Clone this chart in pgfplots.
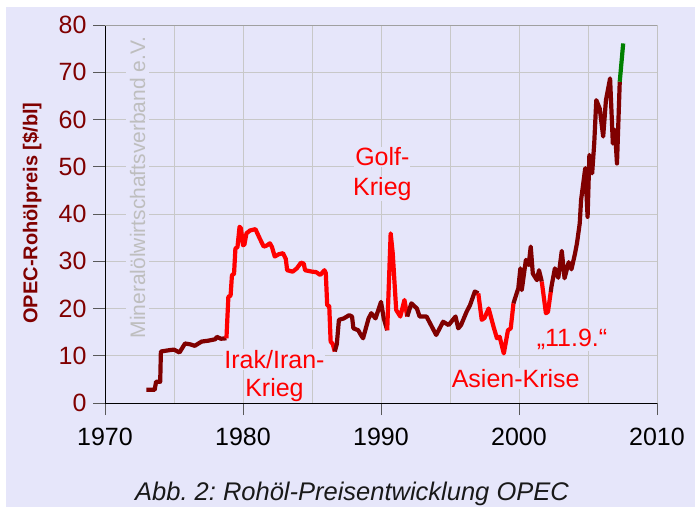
\documentclass[border=0pt]{standalone}
\usepackage{fontspec}
\setmainfont{Liberation Sans}
\usepackage{pgfplots}
\pgfplotsset{compat=1.18}
\definecolor{bg}{RGB}{230,230,250}
\definecolor{dred}{RGB}{128,0,0}
\definecolor{gridc}{RGB}{200,200,200}
\definecolor{framec}{RGB}{160,160,160}
\definecolor{wm}{RGB}{190,190,190}
\definecolor{grn}{RGB}{0,128,0}
\frenchspacing
\begin{document}
\begin{tikzpicture}[x=1pt,y=1pt]
\path[use as bounding box] (0,0) rectangle (695,507);
\fill[bg] (6,0) rectangle (695,500);
\begin{axis}[at={(105pt,104pt)}, anchor=south west, scale only axis,
  width=552pt, height=378pt,
  xmin=1970, xmax=2010, ymin=0, ymax=80,
  xtick={1970,1980,...,2010}, ytick={0,10,...,80},
  minor xtick={1975,1985,1995,2005},
  grid=both,
  major grid style={gridc, line width=1pt},
  minor grid style={gridc, line width=1pt},
  axis x line=bottom, axis y line=left,
  axis line style={-, black, line width=1pt},
  tick align=outside, major tick length=12pt, minor tick length=0pt,
  tick style={black!65, line width=1pt},
  xticklabel style={font=\fontsize{25}{30}\selectfont, text=black, yshift=-10pt},
  yticklabel style={font=\fontsize{25}{30}\selectfont, text=dred, xshift=-3pt},
  /pgf/number format/assume math mode=true,
  /pgf/number format/1000 sep={},
  line join=round,
]
% 1973-1978 (dark red)
\addplot[dred, line width=4.2pt] coordinates {
(1973.0,2.8)(1973.6,2.8)(1973.7,4.5)(1974.0,4.5)(1974.05,10.9)(1974.7,11.2)(1975.0,11.3)(1975.4,10.7)(1975.8,12.6)(1976.2,12.4)(1976.5,12.1)(1977.0,13.0)(1977.5,13.2)(1978.0,13.5)(1978.1,14.0)(1978.4,13.6)(1978.8,13.7)};
% Irak/Iran (red)
\addplot[red, line width=4.2pt] coordinates {
(1978.8,13.7)(1978.94,22.5)(1979.1,22.7)(1979.2,27.1)(1979.35,27.3)(1979.45,32.7)(1979.6,33.0)(1979.75,37.3)(1979.85,37.0)(1980.0,33.4)(1980.1,33.5)(1980.25,35.9)(1980.5,36.5)(1980.9,36.8)(1981.2,34.9)(1981.5,33.1)(1981.7,33.3)(1981.95,33.8)(1982.1,33.0)(1982.3,31.0)(1982.6,31.5)(1982.9,31.7)(1983.1,30.5)(1983.2,28.1)(1983.6,27.8)(1983.9,28.5)(1984.2,29.7)(1984.4,29.5)(1984.5,28.1)(1985.0,27.8)(1985.3,27.7)(1985.6,27.1)(1985.9,28.1)(1986.0,27.5)(1986.1,20.7)(1986.25,20.5)(1986.35,13.0)(1986.5,12.5)(1986.65,10.9)};
% 1986-1990 (dark red)
\addplot[dred, line width=4.2pt] coordinates {
(1986.65,10.9)(1986.8,12.5)(1986.95,17.6)(1987.3,17.9)(1987.7,18.6)(1987.9,18.3)(1988.0,15.8)(1988.35,15.4)(1988.5,14.6)(1988.7,13.7)(1989.1,17.9)(1989.3,19.0)(1989.6,17.9)(1990.0,21.4)(1990.2,17.9)(1990.45,15.4)};
% Golf-Krieg (red)
\addplot[red, line width=4.2pt] coordinates {
(1990.45,15.4)(1990.7,35.9)(1990.85,31.7)(1991.1,19.7)(1991.4,18.3)(1991.7,21.8)(1991.9,18.3)};
% 1992-1997 (dark red)
\addplot[dred, line width=4.2pt] coordinates {
(1991.9,18.3)(1992.2,21.1)(1992.6,20.0)(1992.8,18.3)(1993.3,18.3)(1993.55,16.9)(1994.0,14.4)(1994.5,17.2)(1994.9,16.5)(1995.4,18.3)(1995.6,15.8)(1995.8,16.5)(1996.2,19.3)(1996.45,20.7)(1996.8,23.6)(1997.05,23.2)};
% Asien-Krise (red)
\addplot[red, line width=4.2pt] coordinates {
(1997.05,23.2)(1997.3,17.6)(1997.5,18.0)(1997.8,20.0)(1998.15,16.2)(1998.4,13.7)(1998.6,14.0)(1998.75,12.2)(1998.9,10.5)(1999.2,15.4)(1999.4,15.8)(1999.6,21.1)};
% 1999-2001 (dark red)
\addplot[dred, line width=4.2pt] coordinates {
(1999.6,21.1)(1999.95,24.3)(2000.1,28.5)(2000.2,23.9)(2000.5,30.3)(2000.7,29.2)(2000.85,33.1)(2001.0,27.4)(2001.3,26.0)(2001.45,28.1)(2001.65,25.7)};
% 11.9. (red)
\addplot[red, line width=4.2pt] coordinates {
(2001.65,25.7)(2001.95,19.0)(2002.1,19.3)(2002.3,23.5)};
% 2002-2007 (dark red)
\addplot[dred, line width=4.2pt] coordinates {
(2002.3,23.5)(2002.35,24.6)(2002.6,28.5)(2002.85,26.5)(2003.1,32.2)(2003.3,26.4)(2003.6,29.8)(2003.8,28.3)(2004.05,31.5)(2004.2,33.8)(2004.4,38.0)(2004.5,43.0)(2004.8,49.7)(2004.97,39.4)(2005.1,52.5)(2005.3,48.6)(2005.45,54.9)(2005.6,64.1)(2005.85,62.3)(2006.1,56.4)(2006.3,64.1)(2006.6,68.7)(2006.8,54.9)(2006.95,57.8)(2007.1,50.7)(2007.3,68.0)};
% 2007 (green)
\addplot[grn, line width=4.2pt] coordinates {
(2007.3,68.0)(2007.55,76.1)};
\draw[framec, line width=1pt] (rel axis cs:0,1) -- (rel axis cs:1,1) -- (rel axis cs:1,0);
\node[fill=bg, inner sep=4pt, text=wm, rotate=90, font=\fontsize{21}{25}\selectfont] at (axis cs:1972.36,45.6) {Mineralölwirtschaftsverband e.V.};
\node[fill=bg, inner sep=1pt, text=red, anchor=base, font=\fontsize{25}{30}\selectfont] at (axis cs:1990.1,50.2) {Golf-};
\node[fill=bg, inner sep=1pt, text=red, anchor=base, font=\fontsize{25}{30}\selectfont] at (axis cs:1990.1,44.0) {Krieg};
\node[fill=bg, inner sep=1pt, text=red, anchor=base, font=\fontsize{25}{30}\selectfont] at (axis cs:1982.28,7.34) {Irak/Iran-};
\node[fill=bg, inner sep=1pt, text=red, anchor=base, font=\fontsize{25}{30}\selectfont] at (axis cs:1982.28,1.33) {Krieg};
\node[fill=bg, inner sep=1pt, text=red, anchor=base, font=\fontsize{25}{30}\selectfont] at (axis cs:2003.84,11.9) {„11.9.“};
\node[fill=bg, inner sep=1pt, text=red, anchor=base, font=\fontsize{25}{30}\selectfont] at (axis cs:1999.76,3.3) {Asien-Krise};
\end{axis}
\node[rotate=90, font=\bfseries\fontsize{20}{24}\selectfont, text=dred] at (32,294) {OPEC-Rohölpreis [\$/bl]};
\node[anchor=base, font=\itshape\fontsize{25.5}{30}\selectfont, text=black!90] at (352,6.5) {Abb. 2: Rohöl-Preisentwicklung OPEC};
\end{tikzpicture}
\end{document}
